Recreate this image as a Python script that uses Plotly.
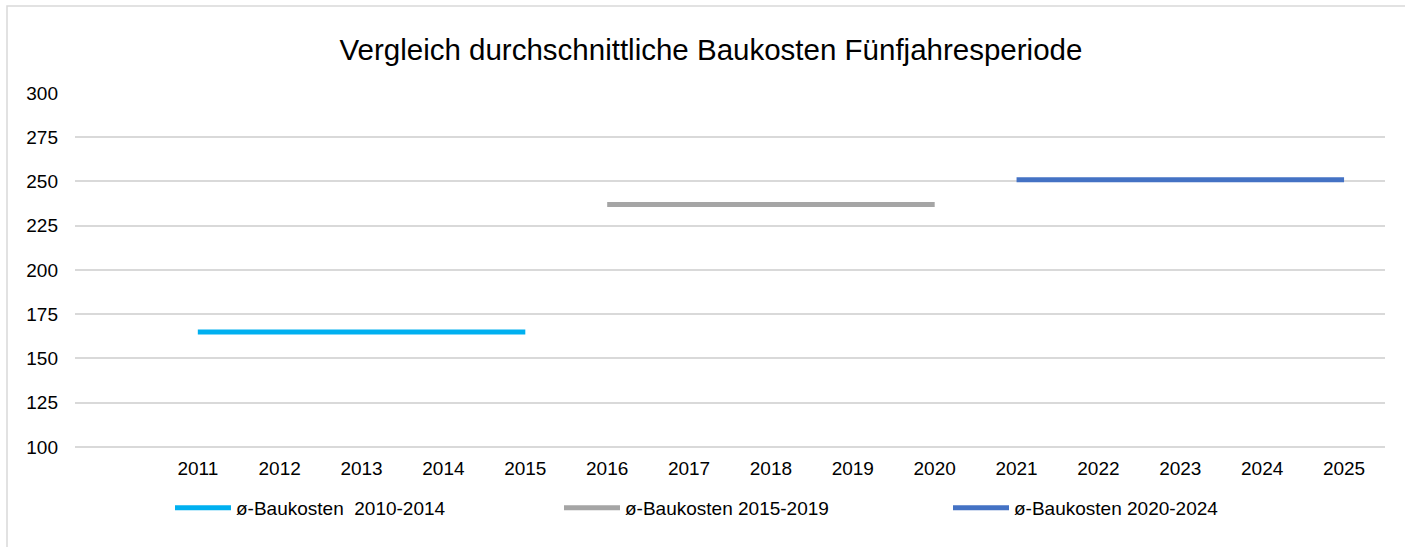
import plotly.graph_objects as go

title = "Vergleich durchschnittliche Baukosten Fünfjahresperiode"
years_all = list(range(2010, 2026))
tick_years = list(range(2011, 2026))

s1_name = "ø-Baukosten  2010-2014"
s1_x = [2011, 2012, 2013, 2014, 2015]
s1_y = [165, 165, 165, 165, 165]

s2_name = "ø-Baukosten 2015-2019"
s2_x = [2016, 2017, 2018, 2019, 2020]
s2_y = [237, 237, 237, 237, 237]

s3_name = "ø-Baukosten 2020-2024"
s3_x = [2021, 2022, 2023, 2024, 2025]
s3_y = [251, 251, 251, 251, 251]

y_ticks = [100, 125, 150, 175, 200, 225, 250, 275, 300]

FONT = "Liberation Sans, Arial, sans-serif"
W, H = 1405, 547
ML, MR, MT, MB = 75, 20, 93, 99
pw = W - ML - MR
ph = H - MT - MB

fig = go.Figure()
for name, xs, ys, col in [
    (s1_name, s1_x, s1_y, "#00B0F0"),
    (s2_name, s2_x, s2_y, "#A5A5A5"),
    (s3_name, s3_x, s3_y, "#4472C4"),
]:
    fig.add_trace(go.Scatter(x=xs, y=ys, name=name, mode="lines",
                             line=dict(color=col, width=5), hoverinfo="x+y"))

fig.update_layout(
    width=W, height=H,
    margin=dict(l=ML, r=MR, t=MT, b=MB),
    paper_bgcolor="white", plot_bgcolor="white",
    font=dict(family=FONT, size=19, color="#000000"),
    title=dict(text=title, x=0.506, xref="container", xanchor="center",
               y=1 - 50 / H, yref="container", yanchor="middle",
               font=dict(family=FONT, size=29.5, color="#000000")),
    xaxis=dict(range=[years_all[0] - 0.5, years_all[-1] + 0.5],
               tickmode="array", tickvals=tick_years,
               ticktext=[str(y) for y in tick_years],
               showgrid=False, zeroline=False, showline=False,
               ticks="", ticklabelstandoff=7, fixedrange=True),
    yaxis=dict(range=[99.4, 300], tickmode="array", tickvals=y_ticks,
               showgrid=True, gridcolor="#D9D9D9", gridwidth=1.5,
               zeroline=False, showline=False, ticks="",
               ticklabelstandoff=16, fixedrange=True),
    showlegend=True,
    legend=dict(orientation="h", x=(170 - ML) / pw, xanchor="left",
                y=(ph - (508 - MT)) / ph, yanchor="middle",
                font=dict(family=FONT, size=19),
                itemwidth=56, entrywidthmode="pixels", entrywidth=318,
                bgcolor="rgba(0,0,0,0)"),
    shapes=[dict(type="rect", xref="paper", yref="paper",
                 x0=(7 - ML) / pw, x1=(W + 20 - ML) / pw,
                 y0=(ph - (H + 20 - MT)) / ph, y1=(ph - (6 - MT)) / ph,
                 line=dict(color="#D9D9D9", width=1.5), layer="below")],
)

fig.write_html("out.html",
               config={"displayModeBar": False},
               post_script="document.body.style.margin='0';document.body.style.overflow='hidden';")
